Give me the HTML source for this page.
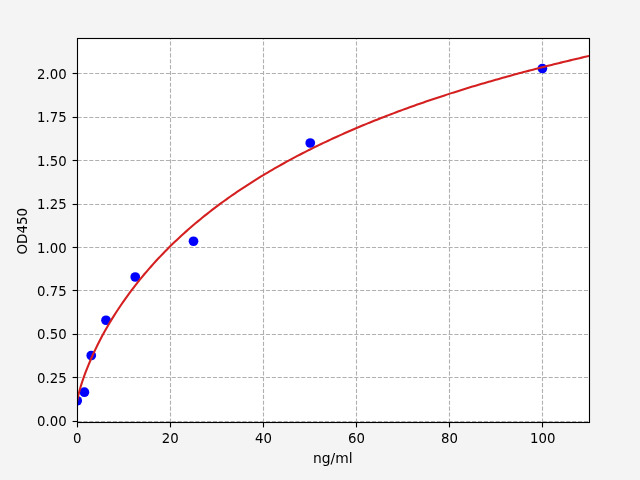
<!DOCTYPE html>
<html><head><meta charset="utf-8"><title>Standard curve</title>
<style>html,body{margin:0;padding:0;background:#f4f4f4;}svg{display:block;will-change:transform;}</style></head>
<body><svg width="640" height="480" viewBox="0 0 640 480">
<rect x="0" y="0" width="640" height="480" fill="#f4f4f4"/>
<rect x="76.8" y="38.4" width="511.99999999999994" height="384.0" fill="#ffffff"/>
<g stroke="#b0b0b0" stroke-width="1.111" stroke-dasharray="4.111 1.778" fill="none"><line x1="170.5" y1="422.5" x2="170.5" y2="38.5"/><line x1="263.5" y1="422.5" x2="263.5" y2="38.5"/><line x1="356.5" y1="422.5" x2="356.5" y2="38.5"/><line x1="449.5" y1="422.5" x2="449.5" y2="38.5"/><line x1="542.5" y1="422.5" x2="542.5" y2="38.5"/><line x1="77.5" y1="421.5" x2="589.5" y2="421.5"/><line x1="77.5" y1="377.5" x2="589.5" y2="377.5"/><line x1="77.5" y1="334.5" x2="589.5" y2="334.5"/><line x1="77.5" y1="290.5" x2="589.5" y2="290.5"/><line x1="77.5" y1="247.5" x2="589.5" y2="247.5"/><line x1="77.5" y1="204.5" x2="589.5" y2="204.5"/><line x1="77.5" y1="160.5" x2="589.5" y2="160.5"/><line x1="77.5" y1="117.5" x2="589.5" y2="117.5"/><line x1="77.5" y1="73.5" x2="589.5" y2="73.5"/></g>
<clipPath id="c"><rect x="77" y="38" width="512" height="384"/></clipPath>
<g clip-path="url(#c)" fill="#0000ff"><circle cx="77.20" cy="400.75" r="4.861"/><circle cx="84.40" cy="392.20" r="4.861"/><circle cx="91.25" cy="355.50" r="4.861"/><circle cx="106.00" cy="320.25" r="4.861"/><circle cx="135.25" cy="277.00" r="4.861"/><circle cx="193.50" cy="241.25" r="4.861"/><circle cx="310.25" cy="143.00" r="4.861"/><circle cx="542.40" cy="68.50" r="4.861"/></g>
<g clip-path="url(#c)"><polyline points="76.80,403.34 77.03,401.48 77.27,400.14 77.50,398.94 77.73,397.82 77.96,396.77 78.20,395.77 78.43,394.80 78.66,393.86 78.89,392.96 79.13,392.07 79.36,391.21 79.59,390.37 79.83,389.54 80.06,388.73 80.29,387.93 80.52,387.14 80.76,386.37 80.99,385.61 81.22,384.86 81.45,384.12 81.69,383.39 81.92,382.67 82.15,381.96 82.39,381.26 82.62,380.56 82.85,379.87 83.08,379.19 83.32,378.52 83.55,377.85 83.78,377.19 84.01,376.53 84.25,375.88 84.48,375.24 84.71,374.60 84.95,373.96 85.18,373.34 85.41,372.71 85.64,372.09 85.88,371.48 86.11,370.87 88.44,365.01 90.76,359.51 93.09,354.29 95.42,349.32 97.75,344.57 100.07,340.00 102.40,335.61 104.73,331.36 107.05,327.25 109.38,323.27 111.71,319.41 114.04,315.66 116.36,312.01 118.69,308.45 121.02,304.98 123.35,301.60 125.67,298.29 128.00,295.07 130.33,291.91 132.65,288.82 134.98,285.79 137.31,282.83 139.64,279.93 141.96,277.08 144.29,274.29 146.62,271.55 148.95,268.85 151.27,266.21 153.60,263.62 155.93,261.06 158.25,258.56 160.58,256.09 162.91,253.66 165.24,251.28 167.56,248.93 169.89,246.61 172.22,244.34 174.55,242.09 176.87,239.88 179.20,237.71 181.53,235.56 183.85,233.45 186.18,231.36 188.51,229.31 190.84,227.28 193.16,225.28 195.49,223.30 197.82,221.36 200.15,219.43 202.47,217.54 204.80,215.66 207.13,213.81 209.45,211.99 211.78,210.18 214.11,208.40 216.44,206.64 218.76,204.90 221.09,203.18 223.42,201.48 225.75,199.81 228.07,198.15 230.40,196.51 232.73,194.88 235.05,193.28 237.38,191.69 239.71,190.12 242.04,188.57 244.36,187.04 246.69,185.52 249.02,184.02 251.35,182.53 253.67,181.06 256.00,179.60 258.33,178.16 260.65,176.73 262.98,175.32 265.31,173.92 267.64,172.54 269.96,171.17 272.29,169.81 274.62,168.47 276.95,167.14 279.27,165.82 281.60,164.51 283.93,163.22 286.25,161.94 288.58,160.67 290.91,159.41 293.24,158.16 295.56,156.93 297.89,155.70 300.22,154.49 302.55,153.29 304.87,152.10 307.20,150.91 309.53,149.74 311.85,148.58 314.18,147.43 316.51,146.29 318.84,145.16 321.16,144.04 323.49,142.93 325.82,141.82 328.15,140.73 330.47,139.64 332.80,138.57 335.13,137.50 337.45,136.44 339.78,135.39 342.11,134.35 344.44,133.32 346.76,132.29 349.09,131.27 351.42,130.26 353.75,129.26 356.07,128.27 358.40,127.28 360.73,126.30 363.05,125.33 365.38,124.37 367.71,123.41 370.04,122.46 372.36,121.52 374.69,120.59 377.02,119.66 379.35,118.74 381.67,117.82 384.00,116.91 386.33,116.01 388.65,115.12 390.98,114.23 393.31,113.35 395.64,112.47 397.96,111.60 400.29,110.73 402.62,109.88 404.95,109.02 407.27,108.18 409.60,107.34 411.93,106.50 414.25,105.67 416.58,104.85 418.91,104.03 421.24,103.22 423.56,102.41 425.89,101.61 428.22,100.82 430.55,100.03 432.87,99.24 435.20,98.46 437.53,97.68 439.85,96.91 442.18,96.15 444.51,95.39 446.84,94.63 449.16,93.88 451.49,93.13 453.82,92.39 456.15,91.65 458.47,90.92 460.80,90.19 463.13,89.47 465.45,88.75 467.78,88.04 470.11,87.33 472.44,86.62 474.76,85.92 477.09,85.22 479.42,84.53 481.75,83.84 484.07,83.16 486.40,82.48 488.73,81.80 491.05,81.13 493.38,80.46 495.71,79.79 498.04,79.13 500.36,78.47 502.69,77.82 505.02,77.17 507.35,76.53 509.67,75.88 512.00,75.25 514.33,74.61 516.65,73.98 518.98,73.35 521.31,72.73 523.64,72.11 525.96,71.49 528.29,70.88 530.62,70.26 532.95,69.66 535.27,69.05 537.60,68.45 539.93,67.86 542.25,67.26 544.58,66.67 546.91,66.08 549.24,65.50 551.56,64.92 553.89,64.34 556.22,63.77 558.55,63.19 560.87,62.62 563.20,62.06 565.53,61.50 567.85,60.93 570.18,60.38 572.51,59.82 574.84,59.27 577.16,58.72 579.49,58.18 581.82,57.63 584.15,57.09 586.47,56.56 588.80,56.02" fill="none" stroke="#d42020" stroke-width="2.083" stroke-linejoin="round" stroke-linecap="square"/></g>
<rect x="77.5" y="38.5" width="512" height="384" fill="none" stroke="#000" stroke-width="1.111"/>
<g stroke="#000" stroke-width="1.111"><line x1="77.5" y1="422.5" x2="77.5" y2="427.4"/><line x1="170.5" y1="422.5" x2="170.5" y2="427.4"/><line x1="263.5" y1="422.5" x2="263.5" y2="427.4"/><line x1="356.5" y1="422.5" x2="356.5" y2="427.4"/><line x1="449.5" y1="422.5" x2="449.5" y2="427.4"/><line x1="542.5" y1="422.5" x2="542.5" y2="427.4"/><line x1="72.6" y1="421.5" x2="77.5" y2="421.5"/><line x1="72.6" y1="377.5" x2="77.5" y2="377.5"/><line x1="72.6" y1="334.5" x2="77.5" y2="334.5"/><line x1="72.6" y1="290.5" x2="77.5" y2="290.5"/><line x1="72.6" y1="247.5" x2="77.5" y2="247.5"/><line x1="72.6" y1="204.5" x2="77.5" y2="204.5"/><line x1="72.6" y1="160.5" x2="77.5" y2="160.5"/><line x1="72.6" y1="117.5" x2="77.5" y2="117.5"/><line x1="72.6" y1="73.5" x2="77.5" y2="73.5"/></g>
<g font-family="'DejaVu Sans', sans-serif" font-size="13.889" fill="#000"><text transform="translate(77.20 442.8) scale(0.96 1)" text-anchor="middle">0</text><text transform="translate(170.29 442.8) scale(0.96 1)" text-anchor="middle">20</text><text transform="translate(263.38 442.8) scale(0.96 1)" text-anchor="middle">40</text><text transform="translate(356.47 442.8) scale(0.96 1)" text-anchor="middle">60</text><text transform="translate(449.56 442.8) scale(0.96 1)" text-anchor="middle">80</text><text transform="translate(542.65 442.8) scale(0.96 1)" text-anchor="middle">100</text><text transform="translate(66.68 425.80) scale(0.96 1)" text-anchor="end">0.00</text><text transform="translate(66.68 382.80) scale(0.96 1)" text-anchor="end">0.25</text><text transform="translate(66.68 338.80) scale(0.96 1)" text-anchor="end">0.50</text><text transform="translate(66.68 295.80) scale(0.96 1)" text-anchor="end">0.75</text><text transform="translate(66.68 252.80) scale(0.96 1)" text-anchor="end">1.00</text><text transform="translate(66.68 208.80) scale(0.96 1)" text-anchor="end">1.25</text><text transform="translate(66.68 165.80) scale(0.96 1)" text-anchor="end">1.50</text><text transform="translate(66.68 121.80) scale(0.96 1)" text-anchor="end">1.75</text><text transform="translate(66.68 78.80) scale(0.96 1)" text-anchor="end">2.00</text><text x="332.80" y="462.5" text-anchor="middle">ng/ml</text><text transform="translate(26.5 231.2) rotate(-90) scale(0.973 1)" text-anchor="middle">OD450</text></g>
</svg></body></html>
